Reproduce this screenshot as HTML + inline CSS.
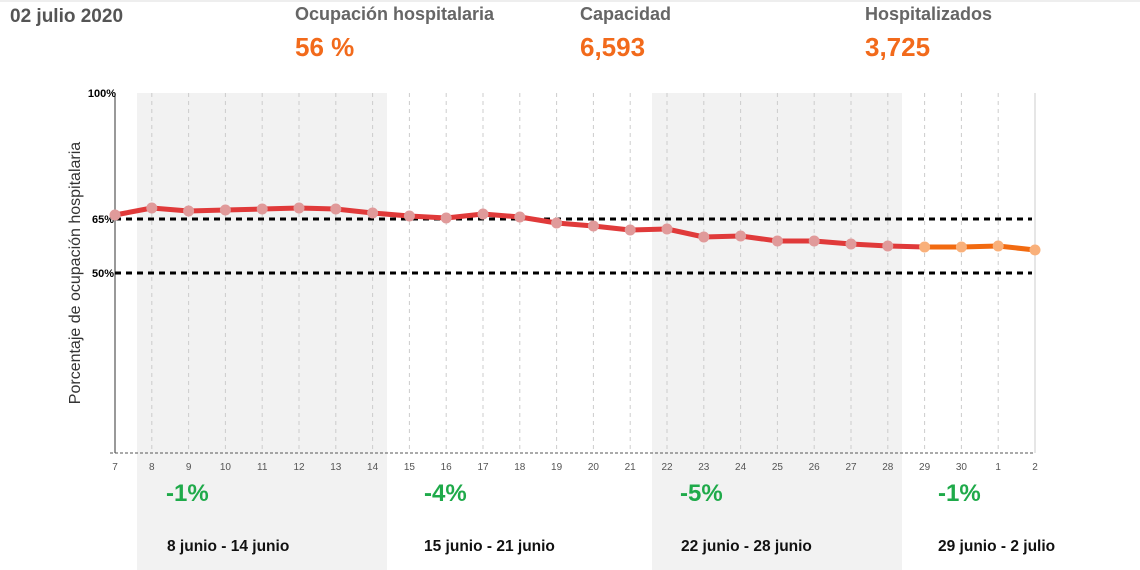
<!DOCTYPE html>
<html><head><meta charset="utf-8"><style>
body{margin:0;width:1140px;height:570px;background:#fff;overflow:hidden;font-family:"Liberation Sans",sans-serif;}
svg{position:absolute;left:0;top:0}
</style></head><body>
<svg width="1140" height="570" xmlns="http://www.w3.org/2000/svg" font-family="Liberation Sans, sans-serif">
<line x1="0" y1="1" x2="1140" y2="1" stroke="#ddd"/>
<text x="10" y="22" font-size="19" font-weight="bold" fill="#555">02 julio 2020</text>
<text x="295" y="20" font-size="18" font-weight="bold" fill="#666">Ocupación hospitalaria</text>
<text x="580" y="20" font-size="18" font-weight="bold" fill="#666">Capacidad</text>
<text x="865" y="20" font-size="18" font-weight="bold" fill="#666">Hospitalizados</text>
<text x="295" y="56" font-size="26" font-weight="bold" fill="#f26a1b">56 %</text>
<text x="580" y="56" font-size="26" font-weight="bold" fill="#f26a1b">6,593</text>
<text x="865" y="56" font-size="26" font-weight="bold" fill="#f26a1b">3,725</text>
<rect x="137" y="93" width="250" height="477" fill="#f2f2f2"/>
<rect x="652" y="93" width="250" height="477" fill="#f2f2f2"/>
<g stroke="#ccc" stroke-dasharray="4,4">
<line x1="151.8" y1="93" x2="151.8" y2="453"/><line x1="188.6" y1="93" x2="188.6" y2="453"/><line x1="225.4" y1="93" x2="225.4" y2="453"/><line x1="262.2" y1="93" x2="262.2" y2="453"/><line x1="299" y1="93" x2="299" y2="453"/><line x1="335.8" y1="93" x2="335.8" y2="453"/><line x1="372.6" y1="93" x2="372.6" y2="453"/><line x1="409.4" y1="93" x2="409.4" y2="453"/><line x1="446.2" y1="93" x2="446.2" y2="453"/><line x1="483" y1="93" x2="483" y2="453"/><line x1="519.8" y1="93" x2="519.8" y2="453"/><line x1="556.6" y1="93" x2="556.6" y2="453"/><line x1="593.4" y1="93" x2="593.4" y2="453"/><line x1="630.2" y1="93" x2="630.2" y2="453"/><line x1="667" y1="93" x2="667" y2="453"/><line x1="703.8" y1="93" x2="703.8" y2="453"/><line x1="740.6" y1="93" x2="740.6" y2="453"/><line x1="777.4" y1="93" x2="777.4" y2="453"/><line x1="814.2" y1="93" x2="814.2" y2="453"/><line x1="851" y1="93" x2="851" y2="453"/><line x1="887.8" y1="93" x2="887.8" y2="453"/><line x1="924.6" y1="93" x2="924.6" y2="453"/><line x1="961.4" y1="93" x2="961.4" y2="453"/><line x1="998.2" y1="93" x2="998.2" y2="453"/>
</g>
<line x1="1035" y1="93" x2="1035" y2="453" stroke="#ccc"/>
<line x1="115" y1="93" x2="115" y2="453" stroke="#333"/>
<line x1="110" y1="453" x2="1035" y2="453" stroke="#555" stroke-dasharray="3,2"/>
<g font-size="11" font-weight="bold" fill="#000" text-anchor="end">
<text x="116" y="97">100%</text><text x="114" y="223">65%</text><text x="114" y="277">50%</text>
</g>
<line x1="115" y1="219" x2="1032" y2="219" stroke="#000" stroke-width="3" stroke-dasharray="6,5"/>
<line x1="115" y1="273" x2="1032" y2="273" stroke="#000" stroke-width="3" stroke-dasharray="6,5"/>
<text transform="translate(80,273) rotate(-90)" font-size="16" fill="#333" text-anchor="middle">Porcentaje de ocupación hospitalaria</text>
<g font-size="10" fill="#555" text-anchor="middle">
<text x="115" y="470">7</text><text x="151.8" y="470">8</text><text x="188.6" y="470">9</text><text x="225.4" y="470">10</text><text x="262.2" y="470">11</text><text x="299" y="470">12</text><text x="335.8" y="470">13</text><text x="372.6" y="470">14</text><text x="409.4" y="470">15</text><text x="446.2" y="470">16</text><text x="483" y="470">17</text><text x="519.8" y="470">18</text><text x="556.6" y="470">19</text><text x="593.4" y="470">20</text><text x="630.2" y="470">21</text><text x="667" y="470">22</text><text x="703.8" y="470">23</text><text x="740.6" y="470">24</text><text x="777.4" y="470">25</text><text x="814.2" y="470">26</text><text x="851" y="470">27</text><text x="887.8" y="470">28</text><text x="924.6" y="470">29</text><text x="961.4" y="470">30</text><text x="998.2" y="470">1</text><text x="1035" y="470">2</text>
</g>
<polyline fill="none" stroke="#e03a3a" stroke-width="5" stroke-linejoin="round" points="115,215 151.8,208 188.6,211 225.4,210 262.2,209 299,208 335.8,209 372.6,213 409.4,216 446.2,218 483,214 519.8,217 556.6,223 593.4,226 630.2,230 667,229 703.8,237 740.6,236 777.4,241 814.2,241 851,244 887.8,246 924.6,247"/>
<polyline fill="none" stroke="#f26a10" stroke-width="5" stroke-linejoin="round" points="924.6,247 961.4,247 998.2,246 1035,250"/>
<g fill="#e09a9a">
<circle cx="115" cy="215" r="5.5"/><circle cx="151.8" cy="208" r="5.5"/><circle cx="188.6" cy="211" r="5.5"/><circle cx="225.4" cy="210" r="5.5"/><circle cx="262.2" cy="209" r="5.5"/><circle cx="299" cy="208" r="5.5"/><circle cx="335.8" cy="209" r="5.5"/><circle cx="372.6" cy="213" r="5.5"/><circle cx="409.4" cy="216" r="5.5"/><circle cx="446.2" cy="218" r="5.5"/><circle cx="483" cy="214" r="5.5"/><circle cx="519.8" cy="217" r="5.5"/><circle cx="556.6" cy="223" r="5.5"/><circle cx="593.4" cy="226" r="5.5"/><circle cx="630.2" cy="230" r="5.5"/><circle cx="667" cy="229" r="5.5"/><circle cx="703.8" cy="237" r="5.5"/><circle cx="740.6" cy="236" r="5.5"/><circle cx="777.4" cy="241" r="5.5"/><circle cx="814.2" cy="241" r="5.5"/><circle cx="851" cy="244" r="5.5"/><circle cx="887.8" cy="246" r="5.5"/>
</g>
<g fill="#f9b07a">
<circle cx="924.6" cy="247" r="5.5"/><circle cx="961.4" cy="247" r="5.5"/><circle cx="998.2" cy="246" r="5.5"/><circle cx="1035" cy="250" r="5.5"/>
</g>
<g font-size="24" font-weight="bold" fill="#1faa4a">
<text x="166" y="501">-1%</text><text x="424" y="501">-4%</text><text x="680" y="501">-5%</text><text x="938" y="501">-1%</text>
</g>
<g font-size="15.5" font-weight="bold" fill="#111">
<text x="167" y="551">8 junio - 14 junio</text><text x="424" y="551">15 junio - 21 junio</text><text x="681" y="551">22 junio - 28 junio</text><text x="938" y="551">29 junio - 2 julio</text>
</g>
</svg>
</body></html>
